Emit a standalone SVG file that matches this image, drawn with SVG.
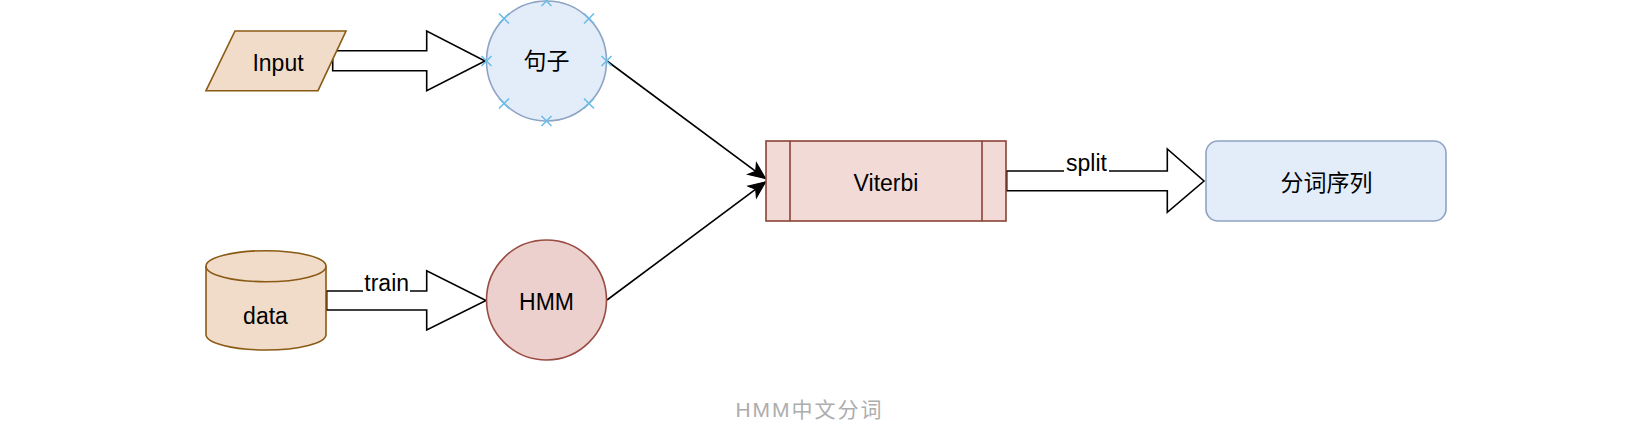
<svg xmlns="http://www.w3.org/2000/svg" width="1650" height="442" viewBox="0 0 1650 442">
  <defs>
    <style>
      .lbl { font-family: "Liberation Sans", Arial, "Noto Sans CJK SC", sans-serif; font-size: 23px; fill: #000; text-anchor: middle; }
      .cjk { font-family: "Liberation Sans", "Noto Sans CJK SC", sans-serif; font-size: 23px; fill: #000; text-anchor: middle; }
      .block { fill: #fff; stroke: #000; stroke-width: 1.6; stroke-linejoin: miter; }
      .line { fill: none; stroke: #000; stroke-width: 1.6; }
      .xmark { stroke: #6bbde8; stroke-width: 1.6; fill: none; }
      .bg { fill: #fff; stroke: none; }
    </style>
    <marker id="arrow" markerUnits="userSpaceOnUse" markerWidth="20" markerHeight="20" viewBox="-16 -8 18 16" refX="0" refY="0" orient="auto">
      <path d="M0,0 L-15,-6.5 L-11,0 L-15,6.5 Z" fill="#000" stroke="#000" stroke-width="1"/>
    </marker>
  </defs>
  <rect width="1650" height="442" fill="#fff"/>

  <g id="connectors">
    <path class="block" d="M332.7,50.7 L426.7,50.7 L426.7,31 L485,61 L426.7,90.7 L426.7,70.7 L332.7,70.7 Z"/>
    <path class="block" d="M326.7,291 L426.7,291 L426.7,270.7 L486,300.5 L426.7,330 L426.7,310 L326.7,310 Z"/>
    <rect class="bg" x="363" y="277" width="47" height="18"/>
    <text class="lbl" x="386.7" y="291">train</text>
    <path class="block" d="M1006.7,171 L1167.3,171 L1167.3,149 L1204,181 L1167.3,212.3 L1167.3,190.7 L1006.7,190.7 Z"/>
    <rect class="bg" x="1064" y="157" width="45" height="18"/>
    <text class="lbl" x="1086.5" y="171">split</text>
    <path class="line" d="M607,61 L765.5,178.5" marker-end="url(#arrow)"/>
    <path class="line" d="M607,300 L765.5,182" marker-end="url(#arrow)"/>
  </g>

  <g id="input">
    <path d="M206,90.7 L235,31 L346,31 L318,90.7 Z" fill="#f0dcc8" stroke="#8a5a14" stroke-width="1.6"/>
    <text class="lbl" x="278" y="70.5">Input</text>
  </g>

  <g id="sentence">
    <circle cx="546.5" cy="61" r="60" fill="#e3edfa" stroke="#8ea4c4" stroke-width="1.6"/>
    <g class="xmark">
      <path d="M541.5,-4 L551.5,6 M551.5,-4 L541.5,6"/>
      <path d="M541.5,116 L551.5,126 M551.5,116 L541.5,126"/>
      <path d="M481.5,56 L491.5,66 M491.5,56 L481.5,66"/>
      <path d="M601.5,56 L611.5,66 M611.5,56 L601.5,66"/>
      <path d="M499,13.5 L509,23.5 M509,13.5 L499,23.5"/>
      <path d="M584,13.5 L594,23.5 M594,13.5 L584,23.5"/>
      <path d="M499,98.5 L509,108.5 M509,98.5 L499,108.5"/>
      <path d="M584,98.5 L594,108.5 M594,98.5 L584,108.5"/>
    </g>
    <text class="cjk" x="546.5" y="69">句子</text>
  </g>

  <g id="data">
    <path d="M206,266.2 A60,15.5 0 0 1 326,266.2 L326,334.5 A60,15.5 0 0 1 206,334.5 Z" fill="#f0dcc8" stroke="#8a5a14" stroke-width="1.6"/>
    <path d="M206,266.2 A60,15.5 0 0 0 326,266.2" fill="none" stroke="#8a5a14" stroke-width="1.6"/>
    <text class="lbl" x="265.5" y="323.5">data</text>
  </g>

  <g id="hmm">
    <circle cx="546.5" cy="300" r="60" fill="#ecd0cd" stroke="#9a4c43" stroke-width="1.6"/>
    <text class="lbl" x="546.5" y="310">HMM</text>
  </g>

  <g id="viterbi">
    <rect x="766" y="141" width="240" height="80" fill="#f2dbd6" stroke="#8a4336" stroke-width="1.6"/>
    <path d="M790,141 L790,221 M982,141 L982,221" stroke="#8a4336" stroke-width="1.6"/>
    <text class="lbl" x="886" y="190.5">Viterbi</text>
  </g>

  <g id="result">
    <rect x="1206" y="141" width="240" height="80" rx="12" ry="12" fill="#e3edfa" stroke="#8ea3c2" stroke-width="1.6"/>
    <text class="cjk" x="1326.5" y="191">分词序列</text>
  </g>

  <g id="title">
    <text x="809.5" y="417" font-family="'Liberation Sans', 'Noto Sans CJK SC', sans-serif" font-size="21" letter-spacing="2" fill="#adadad" text-anchor="middle">HMM中文分词</text>
  </g>
</svg>
